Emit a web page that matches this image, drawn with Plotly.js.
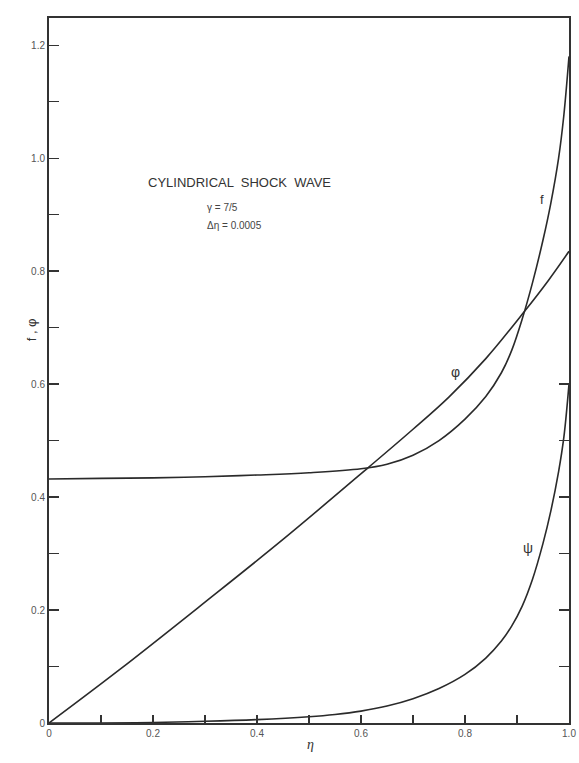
<!DOCTYPE html>
<html>
<head>
<meta charset="utf-8">
<script src="https://cdn.plot.ly/plotly-3.0.1.min.js"></script>
<style>html,body{margin:0;padding:0;background:#fff;}#chart{width:579px;height:763px;}</style>
</head>
<body>
<div id="chart"></div>
<script>
// eta values and curves
const etaF = [0, 0.1, 0.2, 0.3, 0.4, 0.5, 0.6, 0.65, 0.7, 0.75, 0.8, 0.84, 0.87, 0.89, 0.91, 0.93, 0.95, 0.965, 0.98, 0.99, 1.0];
const fVals = [0.432, 0.433, 0.434, 0.436, 0.439, 0.443, 0.45, 0.458, 0.474, 0.50, 0.538, 0.578, 0.62, 0.66, 0.715, 0.78, 0.855, 0.92, 1.0, 1.075, 1.18];

const etaPhi = [0, 0.135, 0.3, 0.45, 0.615, 0.7, 0.769, 0.84, 0.913, 0.96, 1.0];
const phiVals = [0, 0.094, 0.214, 0.325, 0.453, 0.52, 0.577, 0.645, 0.727, 0.783, 0.835];

const etaPsi = [0, 0.2, 0.3, 0.4, 0.5, 0.55, 0.6, 0.65, 0.7, 0.75, 0.8, 0.84, 0.87, 0.89, 0.91, 0.93, 0.95, 0.965, 0.98, 0.99, 1.0];
const psiVals = [0, 0.001, 0.003, 0.006, 0.011, 0.015, 0.021, 0.03, 0.043, 0.061, 0.086, 0.115, 0.145, 0.172, 0.207, 0.255, 0.318, 0.375, 0.445, 0.505, 0.60];

const yTickVals = [0, 0.1, 0.2, 0.3, 0.4, 0.5, 0.6, 0.7, 0.8, 0.9, 1.0, 1.1, 1.2];
const yTickText = ["0", "", "0.2", "", "0.4", "", "0.6", "", "0.8", "", "1.0", "", "1.2"];
const xTickVals = [0, 0.1, 0.2, 0.3, 0.4, 0.5, 0.6, 0.7, 0.8, 0.9, 1.0];
const xTickText = ["0", "", "0.2", "", "0.4", "", "0.6", "", "0.8", "", "1.0"];
const rTickVals = [0.1, 0.2, 0.3, 0.4, 0.5, 0.6];

const lineStyle = {color: '#2a2a2a', width: 1.6, shape: 'spline', smoothing: 1};
const traces = [
  {x: etaF, y: fVals, mode: 'lines', line: lineStyle, name: 'f', hoverinfo: 'skip'},
  {x: etaPhi, y: phiVals, mode: 'lines', line: lineStyle, name: 'φ', hoverinfo: 'skip'},
  {x: etaPsi, y: psiVals, mode: 'lines', line: lineStyle, name: 'ψ', hoverinfo: 'skip'},
  {x: [1], y: [0], yaxis: 'y2', mode: 'markers', marker: {opacity: 0}, showlegend: false, hoverinfo: 'skip'}
];

const tickFont = {family: 'Liberation Sans, Arial, sans-serif', size: 10, color: '#555'};
const layout = {
  width: 579, height: 763,
  margin: {l: 49, r: 10, t: 18, b: 40},
  paper_bgcolor: '#fff', plot_bgcolor: '#fff',
  showlegend: false,
  xaxis: {
    range: [0, 1], tickvals: xTickVals, ticktext: xTickText,
    ticks: 'inside', ticklen: 8, tickwidth: 1.2, tickcolor: '#333',
    showline: true, linecolor: '#333', linewidth: 2, mirror: true,
    showgrid: false, zeroline: false, tickfont: tickFont
  },
  yaxis: {
    range: [0, 1.248], tickvals: yTickVals, ticktext: yTickText,
    ticks: 'inside', ticklen: 10, tickwidth: 1.2, tickcolor: '#333',
    showline: true, linecolor: '#333', linewidth: 2, mirror: true,
    showgrid: false, zeroline: false, tickfont: tickFont
  },
  yaxis2: {
    overlaying: 'y', side: 'right', range: [0, 1.248],
    tickvals: rTickVals, showticklabels: false,
    ticks: 'inside', ticklen: 10, tickwidth: 1.2, tickcolor: '#333',
    showline: false, showgrid: false, zeroline: false
  },
  annotations: [
    {x: 0.367, y: 0.956, text: 'CYLINDRICAL  SHOCK  WAVE', showarrow: false,
     font: {family: 'Liberation Sans, Arial, sans-serif', size: 13, color: '#333'}},
    {x: 0.30, y: 0.913, text: 'γ = 7/5', showarrow: false, xanchor: 'left',
     font: {family: 'Liberation Sans, Arial, sans-serif', size: 10, color: '#444'}},
    {x: 0.30, y: 0.881, text: 'Δη = 0.0005', showarrow: false, xanchor: 'left',
     font: {family: 'Liberation Sans, Arial, sans-serif', size: 10, color: '#444'}},
    {x: 0.948, y: 0.926, text: 'f', showarrow: false,
     font: {family: 'Liberation Sans, Arial, sans-serif', size: 13, color: '#333'}},
    {x: 0.781, y: 0.621, text: 'φ', showarrow: false,
     font: {family: 'Liberation Sans, Arial, sans-serif', size: 14, color: '#333'}},
    {x: 0.921, y: 0.31, text: 'ψ', showarrow: false,
     font: {family: 'Liberation Sans, Arial, sans-serif', size: 14, color: '#333'}},
    {xref: 'paper', x: 0, xshift: -27, y: 0.696, text: 'f , φ', textangle: -90, showarrow: false,
     font: {family: 'Liberation Sans, Arial, sans-serif', size: 13, color: '#333'}},
    {x: 0.502, yref: 'paper', y: 0, yshift: -31, text: '<i>η</i>', showarrow: false,
     font: {family: 'Liberation Serif, serif', size: 14, color: '#333'}}
  ]
};

Plotly.newPlot('chart', traces, layout, {displayModeBar: false, staticPlot: true});
</script>
</body>
</html>
